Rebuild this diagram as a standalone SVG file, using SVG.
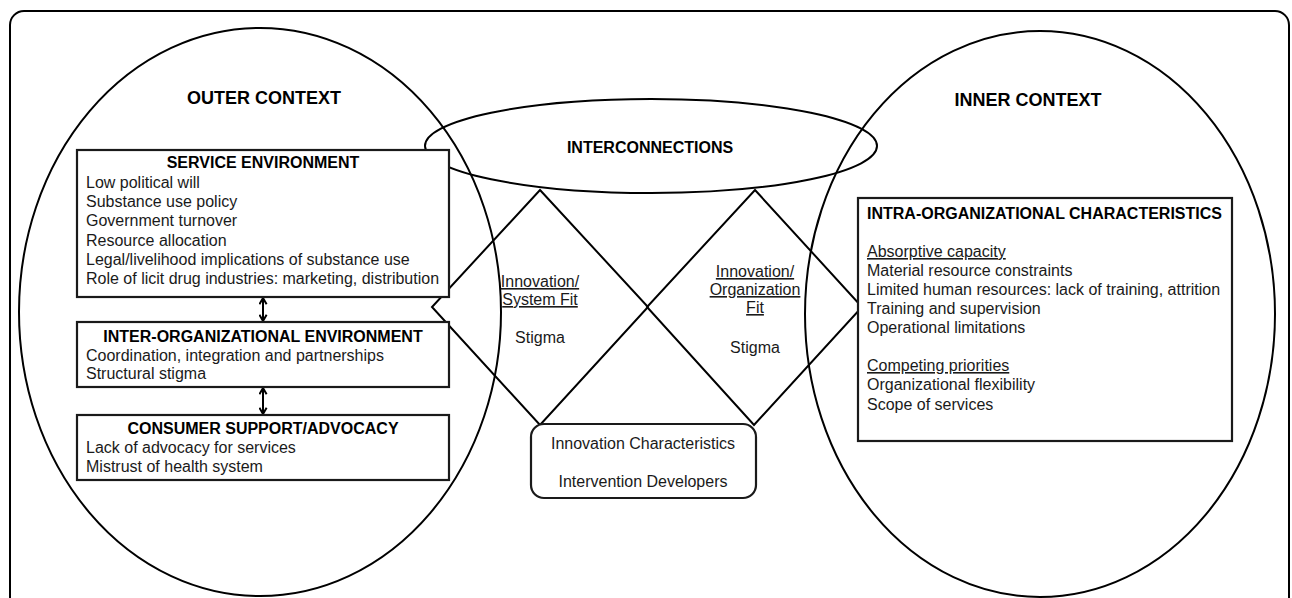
<svg xmlns="http://www.w3.org/2000/svg" width="1292" height="598" viewBox="0 0 1292 598">
<defs>
<style>
.ln{fill:none;stroke:#000;stroke-width:2}
.box{fill:#fff;stroke:#1a1a1a;stroke-width:2.2}
text{font-family:"Liberation Sans",Arial,Helvetica,sans-serif;font-size:16px;fill:#1a1a1a}
.b{font-weight:bold;fill:#000}
.big{font-size:18px}
.c{text-anchor:middle}
.u{text-decoration:underline}
</style>
<marker id="ah" viewBox="0 0 10 10" refX="8.5" refY="5" markerWidth="9" markerHeight="9" markerUnits="userSpaceOnUse" orient="auto-start-reverse">
<path d="M1.5,1 L8.5,5 L1.5,9" fill="none" stroke="#000" stroke-width="2.2"/>
</marker>
</defs>
<rect x="0" y="0" width="1292" height="598" fill="#fff"/>
<rect x="10" y="11" width="1279" height="640" rx="14" class="ln" stroke-width="1.8"/>

<g id="outer-context">
<ellipse cx="260" cy="312" rx="241" ry="284" class="ln"/>
<text x="264" y="104" class="b big c">OUTER CONTEXT</text>
</g>
<g id="inner-context">
<ellipse cx="1040" cy="314" rx="235" ry="283" class="ln"/>
<text x="1028" y="106" class="b big c">INNER CONTEXT</text>
</g>
<g id="interconnections">
<ellipse cx="651" cy="146" rx="226" ry="47" class="ln"/>
<text x="650" y="153" class="b c">INTERCONNECTIONS</text>
</g>
<g id="connectors">
<polygon points="540,190 648,307 540,425 432,307" class="ln"/>
<polygon points="755,190 862,307 754,425 647,307" class="ln"/>
<line x1="263" y1="298" x2="263" y2="321" class="ln" stroke-width="2.2" marker-start="url(#ah)" marker-end="url(#ah)"/>
<line x1="263" y1="388" x2="263" y2="414" class="ln" stroke-width="2.2" marker-start="url(#ah)" marker-end="url(#ah)"/>
</g>
<g id="system-fit">
<text x="540" y="287" class="c u">Innovation/</text>
<text x="540" y="305" class="c u">System Fit</text>
<text x="540" y="343" class="c">Stigma</text>
</g>
<g id="organization-fit">
<text x="755" y="277" class="c u">Innovation/</text>
<text x="755" y="295" class="c u">Organization</text>
<text x="755" y="313" class="c u">Fit</text>
<text x="755" y="353" class="c">Stigma</text>
</g>
<g id="service-environment">
<rect x="77" y="150" width="372" height="147" class="box"/>
<text x="263" y="168" class="b c">SERVICE ENVIRONMENT</text>
<text x="86" y="188">Low political will</text>
<text x="86" y="207">Substance use policy</text>
<text x="86" y="226">Government turnover</text>
<text x="86" y="246">Resource allocation</text>
<text x="86" y="265">Legal/livelihood implications of substance use</text>
<text x="86" y="284">Role of licit drug industries: marketing, distribution</text>
</g>
<g id="inter-organizational-environment">
<rect x="77" y="322" width="372" height="65" class="box"/>
<text x="263" y="342" class="b c">INTER-ORGANIZATIONAL ENVIRONMENT</text>
<text x="86" y="361">Coordination, integration and partnerships</text>
<text x="86" y="379">Structural stigma</text>
</g>
<g id="consumer-support">
<rect x="77" y="415" width="372" height="65" class="box"/>
<text x="263" y="434" class="b c">CONSUMER SUPPORT/ADVOCACY</text>
<text x="86" y="453">Lack of advocacy for services</text>
<text x="86" y="472">Mistrust of health system</text>
</g>
<g id="intra-organizational">
<rect x="858" y="198" width="374" height="243" class="box"/>
<text x="867" y="219" class="b">INTRA-ORGANIZATIONAL CHARACTERISTICS</text>
<text x="867" y="257" class="u">Absorptive capacity</text>
<text x="867" y="276">Material resource constraints</text>
<text x="867" y="295">Limited human resources: lack of training, attrition</text>
<text x="867" y="314">Training and supervision</text>
<text x="867" y="333">Operational limitations</text>
<text x="867" y="371" class="u">Competing priorities</text>
<text x="867" y="390">Organizational flexibility</text>
<text x="867" y="410">Scope of services</text>
</g>
<g id="innovation-characteristics">
<rect x="531" y="424" width="225" height="74" rx="13" class="box"/>
<text x="643" y="449" class="c">Innovation Characteristics</text>
<text x="643" y="487" class="c">Intervention Developers</text>
</g>
</svg>
